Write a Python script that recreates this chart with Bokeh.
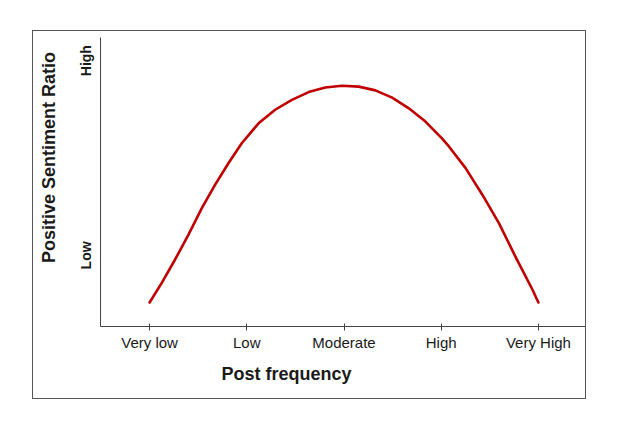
from bokeh.plotting import figure
from bokeh.models import FixedTicker, Range1d, Title, LinearAxis
from bokeh.embed import file_html
from bokeh.resources import INLINE

# Categories on the x axis (placed at positions 1..5)
categories = ["Very low", "Low", "Moderate", "High", "Very High"]
category_pos = [1, 2, 3, 4, 5]

# y-axis qualitative labels and their positions (0-10 scale)
y_labels = ["Low", "High"]
y_label_pos = [2.46, 9.2]

# Axis titles
x_title = "Post frequency"
y_title = "Positive Sentiment Ratio"
y_title_pos = 5.85

# Curve: post frequency (1..5) vs positive sentiment ratio (0..10)
freq = [1.000, 1.124, 1.261, 1.399, 1.536, 1.673, 1.811, 1.948, 2.121, 2.292,
        2.464, 2.636, 2.807, 2.979, 3.152, 3.323, 3.495, 3.667, 3.838, 4.010,
        4.079, 4.251, 4.423, 4.595, 4.766, 4.938, 5.000]
sentiment = [0.83, 1.50, 2.31, 3.17, 4.09, 4.90, 5.65, 6.34, 7.03, 7.50,
             7.84, 8.11, 8.27, 8.33, 8.30, 8.17, 7.92, 7.55, 7.09, 6.50,
             6.23, 5.48, 4.56, 3.57, 2.40, 1.28, 0.83]

FONT = "Liberation Sans"
TEXT = "#1a1a1a"
AXIS = "#444444"

p = figure(width=554, height=369, output_backend="svg", toolbar_location=None,
           x_range=Range1d(0.495, 5.505), y_range=Range1d(0, 10),
           min_border_left=67, min_border_right=0, min_border_top=6, min_border_bottom=74)
p.margin = (30, 0, 0, 32)
p.styles = {"border": "1px solid #555555"}
p.outline_line_color = None
p.grid.grid_line_color = None
p.background_fill_color = "white"
p.border_fill_color = "white"

p.line(freq, sentiment, line_color="#C00000", line_width=2.6, line_join="round", line_cap="round")

xa = p.xaxis[0]
xa.ticker = FixedTicker(ticks=category_pos + [5.5])
xa.major_label_overrides = {**{pos: lab for pos, lab in zip(category_pos, categories)}, 5.5: ""}
xa.major_label_text_font = FONT
xa.major_label_text_font_size = "15px"
xa.major_label_text_color = TEXT
xa.major_label_standoff = 3
xa.major_tick_in = 3
xa.major_tick_out = 4
xa.minor_tick_line_color = None
xa.axis_line_color = AXIS
xa.major_tick_line_color = AXIS

ya = p.yaxis[0]
ya.ticker = FixedTicker(ticks=y_label_pos)
ya.major_label_overrides = {pos: lab for pos, lab in zip(y_label_pos, y_labels)}
ya.major_label_orientation = "vertical"
ya.major_label_text_font = FONT
ya.major_label_text_font_style = "bold"
ya.major_label_text_font_size = "14px"
ya.major_label_text_color = TEXT
ya.major_label_standoff = 6
ya.major_tick_in = 0
ya.major_tick_out = 0
ya.major_tick_line_color = None
ya.minor_tick_line_color = None
ya.axis_line_color = AXIS

# Outer axis that only carries the y title as its single label
yt = LinearAxis(ticker=FixedTicker(ticks=[y_title_pos]),
                major_label_overrides={y_title_pos: y_title},
                major_label_orientation="vertical",
                major_label_text_font=FONT, major_label_text_font_style="bold",
                major_label_text_font_size="18px", major_label_text_color=TEXT,
                major_label_standoff=16, major_tick_in=0, major_tick_out=0,
                major_tick_line_color=None, minor_tick_line_color=None,
                axis_line_color=None)
p.add_layout(yt, "left")

p.add_layout(Title(text=x_title, align="left", offset=121, standoff=16,
                   text_font=FONT, text_font_style="bold", text_font_size="18px",
                   text_color=TEXT), "below")

open("out.html", "w").write(file_html(p, INLINE))
